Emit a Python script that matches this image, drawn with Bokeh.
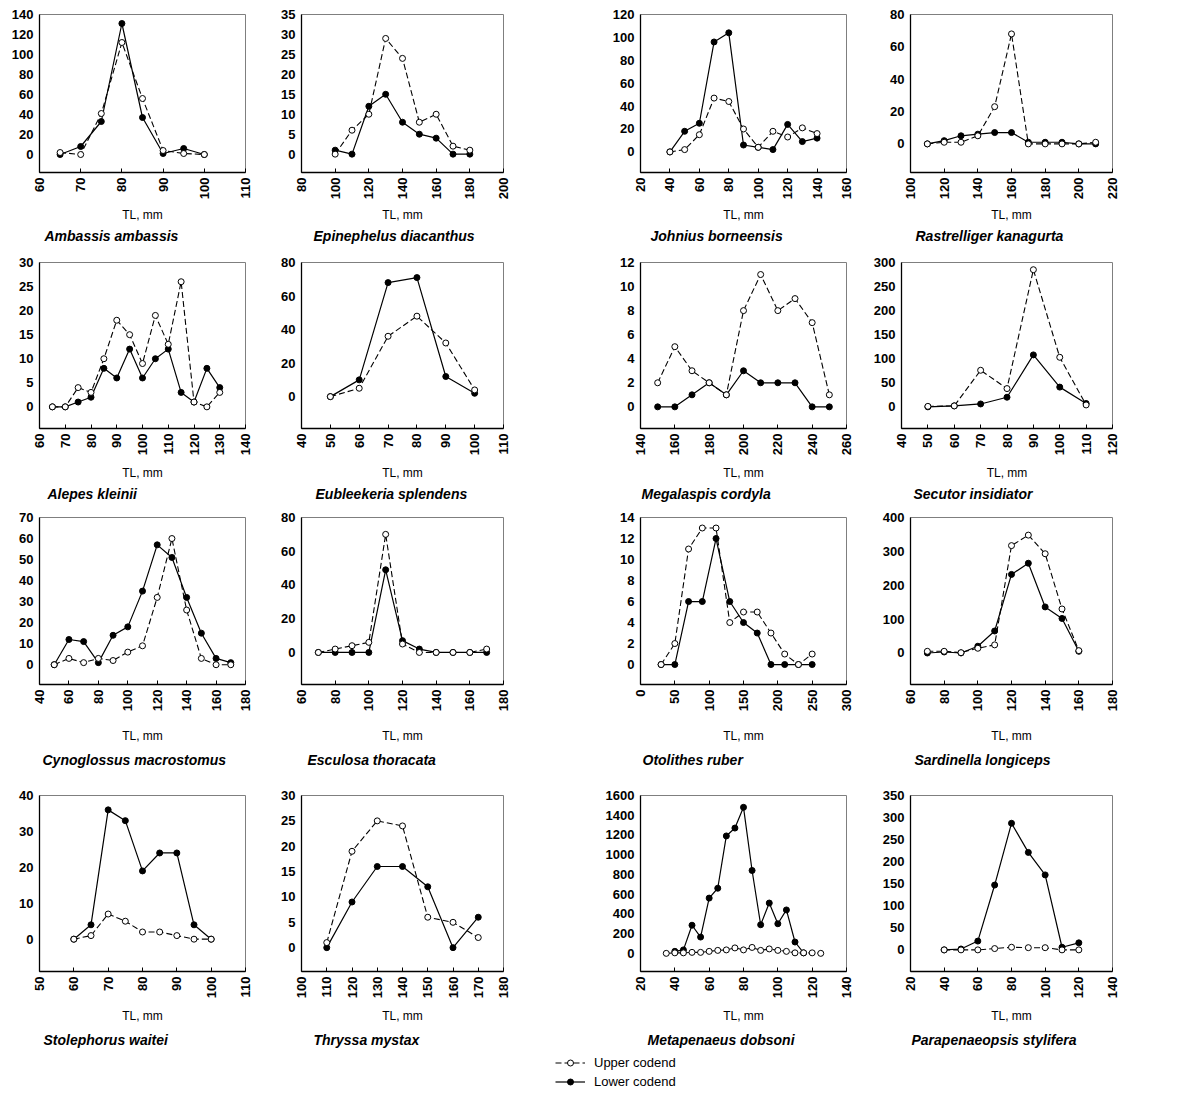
import math
from bokeh.plotting import figure
from bokeh.layouts import column, row
from bokeh.models import Range1d, FixedTicker, Title, Legend, LegendItem
from bokeh.embed import file_html
from bokeh.resources import INLINE

# ---------------- data ----------------
amb_tl = [65, 70, 75, 80, 85, 90, 95, 100]
amb_upper = [2, 0, 41, 112, 56, 4, 1, 0]
amb_lower = [0, 8, 33, 131, 37, 1, 6, 0]

epi_tl = [100, 110, 120, 130, 140, 150, 160, 170, 180]
epi_upper = [0, 6, 10, 29, 24, 8, 10, 2, 1]
epi_lower = [1, 0, 12, 15, 8, 5, 4, 0, 0]

joh_tl = [40, 50, 60, 70, 80, 90, 100, 110, 120, 130, 140]
joh_upper = [0, 2, 15, 47, 44, 20, 4, 18, 13, 21, 16]
joh_lower = [0, 18, 25, 96, 104, 6, 4, 2, 24, 9, 12]

ras_tl = [110, 120, 130, 140, 150, 160, 170, 180, 190, 200, 210]
ras_upper = [0, 1, 1, 5, 23, 68, 0, 0, 0, 0, 1]
ras_lower = [0, 2, 5, 6, 7, 7, 1, 1, 1, 0, 0]

ale_tl = [65, 70, 75, 80, 85, 90, 95, 100, 105, 110, 115, 120, 125, 130]
ale_upper = [0, 0, 4, 3, 10, 18, 15, 9, 19, 13, 26, 1, 0, 3]
ale_lower = [0, 0, 1, 2, 8, 6, 12, 6, 10, 12, 3, 1, 8, 4]

eub_tl = [50, 60, 70, 80, 90, 100]
eub_upper = [0, 5, 36, 48, 32, 4]
eub_lower = [0, 10, 68, 71, 12, 2]

meg_tl = [150, 160, 170, 180, 190, 200, 210, 220, 230, 240, 250]
meg_upper = [2, 5, 3, 2, 1, 8, 11, 8, 9, 7, 1]
meg_lower = [0, 0, 1, 2, 1, 3, 2, 2, 2, 0, 0]

sec_tl = [50, 60, 70, 80, 90, 100, 110]
sec_upper = [1, 2, 76, 38, 285, 103, 4]
sec_lower = [0, 2, 6, 20, 108, 41, 7]

cyn_tl = [50, 60, 70, 80, 90, 100, 110, 120, 130, 140, 150, 160, 170]
cyn_upper = [0, 3, 1, 3, 2, 6, 9, 32, 60, 26, 3, 0, 0]
cyn_lower = [0, 12, 11, 1, 14, 18, 35, 57, 51, 32, 15, 3, 1]

esc_tl = [70, 80, 90, 100, 110, 120, 130, 140, 150, 160, 170]
esc_upper = [0, 2, 4, 6, 70, 5, 0, 0, 0, 0, 2]
esc_lower = [0, 0, 0, 0, 49, 7, 2, 0, 0, 0, 0]

oto_tl = [30, 50, 70, 90, 110, 130, 150, 170, 190, 210, 230, 250]
oto_upper = [0, 2, 11, 13, 13, 4, 5, 5, 3, 1, 0, 1]
oto_lower = [0, 0, 6, 6, 12, 6, 4, 3, 0, 0, 0, 0]

sar_tl = [70, 80, 90, 100, 110, 120, 130, 140, 150, 160]
sar_upper = [5, 5, 1, 14, 24, 317, 348, 293, 130, 7]
sar_lower = [0, 3, 0, 20, 65, 232, 265, 136, 102, 5]

sto_tl = [60, 65, 70, 75, 80, 85, 90, 95, 100]
sto_upper = [0, 1, 7, 5, 2, 2, 1, 0, 0]
sto_lower = [0, 4, 36, 33, 19, 24, 24, 4, 0]

thr_tl = [110, 120, 130, 140, 150, 160, 170]
thr_upper = [1, 19, 25, 24, 6, 5, 2]
thr_lower = [0, 9, 16, 16, 12, 0, 6]

met_tl_upper = [35, 40, 45, 50, 55, 60, 65, 70, 75, 80, 85, 90, 95, 100, 105, 110, 115, 120, 125]
met_upper = [0, 5, 5, 10, 10, 20, 30, 35, 55, 35, 60, 30, 45, 30, 20, 5, 5, 5, 0]
met_tl_lower = [40, 45, 50, 55, 60, 65, 70, 75, 80, 85, 90, 95, 100, 105, 110, 115]
met_lower = [20, 35, 285, 165, 560, 660, 1190, 1270, 1480, 840, 290, 510, 300, 440, 115, 5]

par_tl = [40, 50, 60, 70, 80, 90, 100, 110, 120]
par_upper = [0, 0, 0, 3, 6, 5, 5, 0, 0]
par_lower = [0, 2, 20, 147, 287, 221, 170, 6, 16]

species = ["Ambassis ambassis", "Epinephelus diacanthus", "Johnius borneensis", "Rastrelliger kanagurta",
           "Alepes kleinii", "Eubleekeria splendens", "Megalaspis cordyla", "Secutor insidiator",
           "Cynoglossus macrostomus", "Esculosa thoracata", "Otolithes ruber", "Sardinella longiceps",
           "Stolephorus waitei", "Thryssa mystax", "Metapenaeus dobsoni", "Parapenaeopsis stylifera"]

legend_labels = ["Upper codend", "Lower codend"]

series = [
    (amb_tl, amb_upper, amb_tl, amb_lower),
    (epi_tl, epi_upper, epi_tl, epi_lower),
    (joh_tl, joh_upper, joh_tl, joh_lower),
    (ras_tl, ras_upper, ras_tl, ras_lower),
    (ale_tl, ale_upper, ale_tl, ale_lower),
    (eub_tl, eub_upper, eub_tl, eub_lower),
    (meg_tl, meg_upper, meg_tl, meg_lower),
    (sec_tl, sec_upper, sec_tl, sec_lower),
    (cyn_tl, cyn_upper, cyn_tl, cyn_lower),
    (esc_tl, esc_upper, esc_tl, esc_lower),
    (oto_tl, oto_upper, oto_tl, oto_lower),
    (sar_tl, sar_upper, sar_tl, sar_lower),
    (sto_tl, sto_upper, sto_tl, sto_lower),
    (thr_tl, thr_upper, thr_tl, thr_lower),
    (met_tl_upper, met_upper, met_tl_lower, met_lower),
    (par_tl, par_upper, par_tl, par_lower),
]

# axis settings: (xmin, xmax, xstep), (ymin, ymax, ystep)
x_axes = [(60, 110, 10), (80, 200, 20), (20, 160, 20), (100, 220, 20),
          (60, 140, 10), (40, 110, 10), (140, 260, 20), (40, 120, 10),
          (40, 180, 20), (60, 180, 20), (0, 300, 50), (60, 180, 20),
          (50, 110, 10), (100, 180, 10), (20, 140, 20), (20, 140, 20)]
y_axes = [(-18, 140, 20), (-4.6, 35, 5), (-18, 120, 20), (-17.7, 80, 20),
          (-4.5, 30, 5), (-19, 80, 20), (-1.8, 12, 2), (-45, 300, 50),
          (-9.4, 70, 10), (-19, 80, 20), (-1.9, 14, 2), (-93, 400, 100),
          (-9, 40, 10), (-4.7, 30, 5), (-184, 1600, 200), (-49, 350, 50)]

# ---------------- geometry (page pixels; layout origin at 1,1) ----------------
# columns: fig_left, frame_left, frame_right, fig_right
cols = [(1, 40, 246, 262), (262, 302, 504, 580), (580, 641, 847, 870), (870, 911, 1113, 1150)]
# rows: fig_top, frame_top, frame_bottom, fig_bottom, axis label standoff, species title standoff
rows_geo = [(1, 15, 173, 250, 6, 0), (250, 263, 429, 505, 8, 1),
            (505, 518, 685, 775, 15, 6), (775, 796, 972, 1053, 8, 7)]
# horizontal offset of each species name from the plot's left edge
title_offsets = [5, 12, 10, 5,
                 8, 14, 1, 12,
                 3, 6, 2, 4,
                 4, 12, 7, 1]

FONT = "Liberation Sans"
DASH = "6 3"

row_layouts = []
for r in range(4):
    figs = []
    ft, frt, frb, fb, lstand, tstand = rows_geo[r]
    for c in range(4):
        i = r * 4 + c
        fl, frl, frr, fr = cols[c]
        if r == 1 and c == 3:
            frl = 902
        xmin, xmax, xstep = x_axes[i]
        ymin, ymax, ystep = y_axes[i]
        p = figure(width=fr - fl, height=fb - ft,
                   x_range=Range1d(xmin, xmax), y_range=Range1d(ymin, ymax),
                   output_backend="svg", toolbar_location=None,
                   min_border_left=frl - fl, min_border_right=fr - frr,
                   min_border_top=frt - ft, min_border_bottom=fb - frb)
        p.grid.visible = False
        p.outline_line_color = "#7f7f7f"
        p.outline_line_width = 1
        p.xaxis.ticker = FixedTicker(ticks=list(range(xmin, xmax + 1, xstep)))
        p.yaxis.ticker = FixedTicker(ticks=list(range(0, ymax + 1, ystep)))
        p.axis.minor_tick_line_color = None
        p.axis.axis_line_color = "black"
        p.axis.axis_line_width = 1.3
        p.xaxis.major_tick_in = 4
        p.xaxis.major_tick_out = 0
        p.xaxis.major_tick_line_color = "black"
        p.yaxis.major_tick_in = 0
        p.yaxis.major_tick_out = 0
        p.axis.major_label_text_font = FONT
        p.axis.major_label_text_font_style = "bold"
        p.axis.major_label_text_font_size = "13px"
        p.axis.major_label_text_color = "black"
        p.yaxis.major_label_standoff = 6
        p.xaxis.major_label_standoff = 5
        p.xaxis.major_label_orientation = math.pi / 2
        p.xaxis.axis_label = "TL, mm"
        p.xaxis.axis_label_text_font = FONT
        p.xaxis.axis_label_text_font_style = "normal"
        p.xaxis.axis_label_text_font_size = "12px"
        p.xaxis.axis_label_text_color = "black"
        p.xaxis.axis_label_standoff = lstand

        ux, uy, lx, ly = series[i]
        p.line(lx, ly, line_color="black", line_width=1.2)
        p.scatter(lx, ly, marker="circle", size=6, fill_color="black", line_color="black")
        p.line(ux, uy, line_color="black", line_width=1.1, line_dash=DASH)
        p.scatter(ux, uy, marker="circle", size=6, fill_color="white", line_color="black", line_width=1)

        p.add_layout(Title(text=species[i], align="left", offset=title_offsets[i], standoff=tstand,
                           text_font=FONT, text_font_style="bold italic", text_font_size="14px",
                           text_color="black"), "below")
        figs.append(p)
    row_layouts.append(row(*figs))

# ---------------- legend (separate strip; renderers use real data kept off-view) ----------------
lf = figure(width=1149, height=37, x_range=Range1d(-2, -1), y_range=Range1d(-2, -1),
            x_axis_type=None, y_axis_type=None,
            output_backend="svg", toolbar_location=None, min_border=0)
lf.grid.visible = False
lf.outline_line_color = None
ux, uy, lx, ly = series[15]
ul = lf.line(ux, uy, line_color="black", line_width=1.1, line_dash=DASH)
us = lf.scatter(ux, uy, marker="circle", size=7, fill_color="white", line_color="black")
ll = lf.line(lx, ly, line_color="black", line_width=1.2)
ls = lf.scatter(lx, ly, marker="circle", size=7, fill_color="black", line_color="black")
leg = Legend(items=[LegendItem(label=legend_labels[0], renderers=[ul, us]),
                    LegendItem(label=legend_labels[1], renderers=[ll, ls])],
             location=(555, 0), padding=0, margin=0, spacing=4,
             glyph_width=30, glyph_height=15, label_height=15, label_standoff=9,
             label_text_font=FONT, label_text_font_size="13px", label_text_color="black",
             border_line_alpha=0, background_fill_alpha=0)
lf.add_layout(leg)

layout = column(*row_layouts, lf)
open("out.html", "w").write(file_html(layout, INLINE))
